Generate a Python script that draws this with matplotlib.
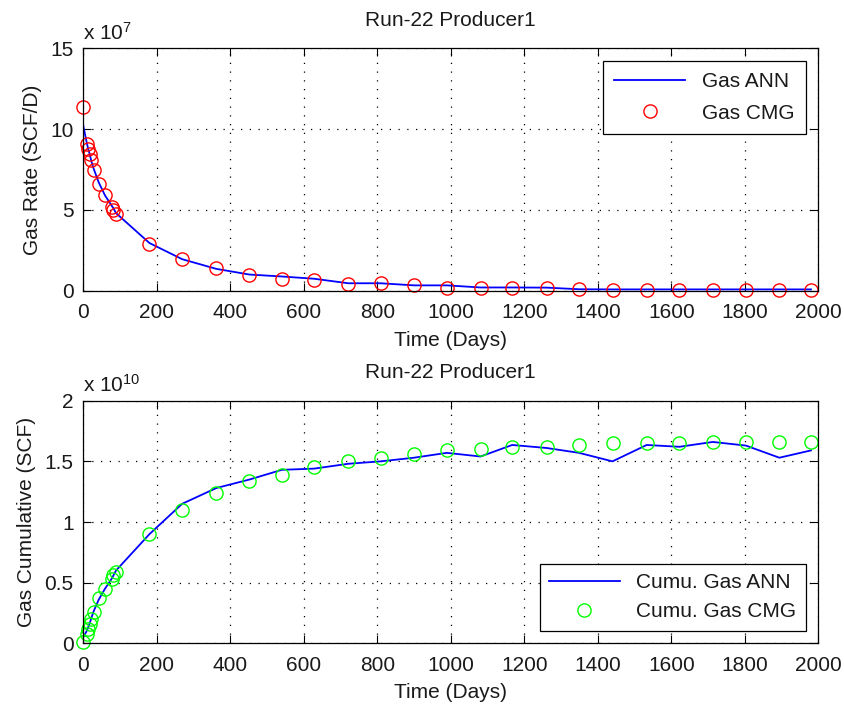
import matplotlib
matplotlib.use("Agg")
import matplotlib.pyplot as plt
import numpy as np

plt.rcParams['font.family'] = ['Liberation Sans', 'DejaVu Sans']
plt.rcParams['mathtext.fontset'] = 'custom'
plt.rcParams['mathtext.rm'] = 'Liberation Sans'
plt.rcParams['mathtext.it'] = 'Liberation Sans'

# ---- data ----
time_days = [0, 9, 13, 18, 22, 29, 42, 59, 79, 82, 89, 180, 269, 362, 452, 540,
             628, 721, 809, 900, 989, 1081, 1167, 1261, 1349, 1440, 1533, 1622,
             1713, 1803, 1894, 1980]

gas_rate_cmg = [11.35, 9.09, 8.78, 8.47, 8.1, 7.48, 6.6, 5.9, 5.2, 5.0, 4.77, 2.91,
                1.94, 1.41, 0.96, 0.74, 0.64, 0.41, 0.46, 0.33, 0.19, 0.15, 0.15,
                0.19, 0.08, 0.07, 0.06, 0.06, 0.06, 0.05, 0.05, 0.05]
gas_rate_ann = [10.2, 9.2, 8.8, 8.4, 8.0, 7.5, 6.7, 5.9, 5.2, 5.1, 4.8, 2.95,
                1.95, 1.35, 1.0, 0.88, 0.74, 0.46, 0.46, 0.33, 0.33, 0.2, 0.2,
                0.19, 0.09, 0.08, 0.08, 0.08, 0.08, 0.08, 0.08, 0.08]
rate_scale = 1e7

cum_cmg = [0.01, 0.08, 0.12, 0.16, 0.2, 0.26, 0.37, 0.45, 0.53, 0.56, 0.59, 0.90,
           1.10, 1.24, 1.34, 1.39, 1.45, 1.50, 1.525, 1.56, 1.59, 1.60, 1.615,
           1.62, 1.635, 1.65, 1.65, 1.65, 1.66, 1.66, 1.66, 1.66]
cum_ann = [0.05, 0.10, 0.13, 0.17, 0.21, 0.27, 0.36, 0.45, 0.54, 0.56, 0.60, 0.90,
           1.15, 1.28, 1.35, 1.43, 1.44, 1.48, 1.50, 1.53, 1.57, 1.54, 1.635,
           1.61, 1.57, 1.50, 1.635, 1.62, 1.66, 1.63, 1.53, 1.59]
cum_scale = 1e10

x_ticks = list(range(0, 2001, 200))
rate_ticks = [0, 5, 10, 15]
cum_ticks = [0, 0.5, 1, 1.5, 2]

title = "Run-22 Producer1"

FS = 15
TXT = '#1a1a1a'

fig = plt.figure(figsize=(8.45, 7.11), dpi=100)
W, H = 845, 711
def rect(l, t, r, b):
    return [l / W, 1 - b / H, (r - l) / W, (b - t) / H]

ax1 = fig.add_axes(rect(83.3, 48.3, 818.3, 290.7))
ax2 = fig.add_axes(rect(83.3, 400.7, 818.3, 643.3))

def style(ax, yticks, ylim):
    ax.set_xlim(0, 2000)
    ax.set_ylim(*ylim)
    ax.set_xticks(x_ticks)
    ax.set_yticks(yticks)
    ax.set_yticklabels([('%g' % v) for v in yticks])
    ax.tick_params(direction='in', length=6, width=0.8, top=True, right=True,
                   labelsize=FS, colors='black', labelcolor=TXT)
    ax.tick_params(axis='x', pad=9)
    ax.tick_params(axis='y', pad=7)
    ax.grid(True, color='black', linestyle=(0, (1, 6)), linewidth=0.9)
    for s in ax.spines.values():
        s.set_linewidth(0.9)
    ax.set_xlabel("Time (Days)", fontsize=FS, labelpad=6, color=TXT)
    ax.set_title(title, fontsize=FS, pad=16, color=TXT)

t = np.array(time_days)

ax1.plot(t, np.array(gas_rate_ann) * rate_scale / 1e7, color='blue', lw=1.3, label='Gas ANN')
ax1.plot(t, np.array(gas_rate_cmg) * rate_scale / 1e7, 'o', mfc='none', mec='red', ms=9.5,
         mew=1.0, label='Gas CMG', clip_on=False)
style(ax1, rate_ticks, (0, 15))
ax1.set_ylabel("Gas Rate (SCF/D)", fontsize=FS, labelpad=6, color=TXT)
ax1.text(0.0, 1.02, r'x 10$^{7}$', transform=ax1.transAxes, fontsize=FS,
         ha='left', va='bottom', color=TXT)
leg1 = ax1.legend(loc='upper right', fontsize=FS, frameon=True, fancybox=False,
                  edgecolor='black', framealpha=1, handlelength=3.4,
                  borderaxespad=0.6, borderpad=0.55, labelspacing=0.6, numpoints=1)
leg1.get_frame().set_linewidth(0.9)
for tx in leg1.get_texts():
    tx.set_color(TXT)

ax2.plot(t, np.array(cum_ann) * cum_scale / 1e10, color='blue', lw=1.3, label='Cumu. Gas ANN')
ax2.plot(t, np.array(cum_cmg) * cum_scale / 1e10, 'o', mfc='none', mec='#00ff00', ms=9.5,
         mew=1.0, label='Cumu. Gas CMG', clip_on=False)
style(ax2, cum_ticks, (0, 2))
ax2.set_ylabel("Gas Cumulative (SCF)", fontsize=FS, labelpad=6, color=TXT)
ax2.text(0.0, 1.02, r'x 10$^{10}$', transform=ax2.transAxes, fontsize=FS,
         ha='left', va='bottom', color=TXT)
leg2 = ax2.legend(loc='lower right', fontsize=FS, frameon=True, fancybox=False,
                  edgecolor='black', framealpha=1, handlelength=3.4,
                  borderaxespad=0.6, borderpad=0.45, labelspacing=0.5, numpoints=1)
leg2.get_frame().set_linewidth(0.9)
for tx in leg2.get_texts():
    tx.set_color(TXT)

fig.savefig("out.png", dpi=100)
